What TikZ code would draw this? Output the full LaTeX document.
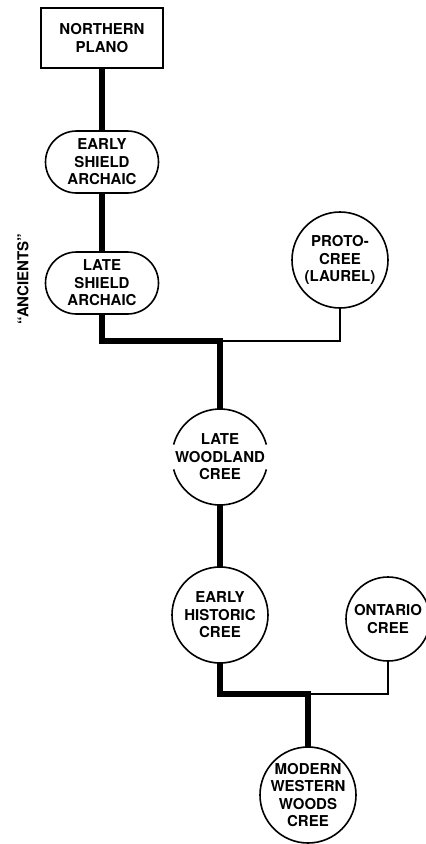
\documentclass[tikz,border=0pt]{standalone}
\usepackage{fontspec}
\setmainfont{TeX Gyre Heros}
\usetikzlibrary{shapes.misc}

\begin{document}
\begin{tikzpicture}[x=1pt, y=1pt,
  font=\bfseries\fontsize{15}{17.5}\selectfont,
  txt/.style={align=center, outer sep=0pt},
  plano/.style={txt, draw, line width=1.6pt, inner sep=2pt, minimum width=122pt, minimum height=60pt},
  shield/.style={txt, draw, line width=1.6pt, rounded rectangle, inner sep=0pt, minimum width=113pt, minimum height=62pt},
  cree/.style={txt, draw, circle, line width=1.6pt, inner sep=-8pt, minimum size=#1},
  cree/.default=96pt,
  descent/.style={line width=6.5pt},
  branch/.style={line width=2.2pt}]
  \useasboundingbox (0,0) rectangle (426,-844);
  % ancestral line
  \node[plano]  (np)  at (102,-38)  {NORTHERN\\PLANO};
  \node[shield] (esa) at (102,-162) {EARLY\\SHIELD\\ARCHAIC};
  \node[shield] (lsa) at (102,-283) {LATE\\SHIELD\\ARCHAIC};
  \node[rotate=90] (anc) at (23,-279) {“ANCIENTS”};
  % cree
  \node[cree] (pc) at (340,-260) {PROTO-\\CREE\\(LAUREL)};
  \node[cree, draw=none] (lw) at (220,-457) {LATE\\WOODLAND\\CREE};
  \node[cree] (eh) at (220,-615) {EARLY\\HISTORIC\\CREE};
  \node[cree=84pt] (oc) at (388,-619) {ONTARIO\\CREE};
  \node[cree] (mwc) at (308,-795) {MODERN\\WESTERN\\WOODS\\CREE};
  % broken outline of late woodland
  \draw[line width=1.6pt] (lw.15) arc[start angle=15, end angle=165, radius=48pt];
  \draw[line width=1.6pt] (lw.195) arc[start angle=195, end angle=345, radius=48pt];
  % junctions
  \coordinate (j1) at (220,-341);
  \coordinate (j2) at (308,-694);
  % descent lines
  \draw[descent] (np) -- (esa);
  \draw[descent] (esa) -- (lsa);
  \draw[branch] (pc) |- (j1);
  \draw[descent] (lsa) |- (j1) -- (lw);
  \draw[descent] (lw) -- (eh);
  \draw[branch] (oc) |- (j2);
  \draw[descent] (eh) |- (j2) -- (mwc);
\end{tikzpicture}
\end{document}
